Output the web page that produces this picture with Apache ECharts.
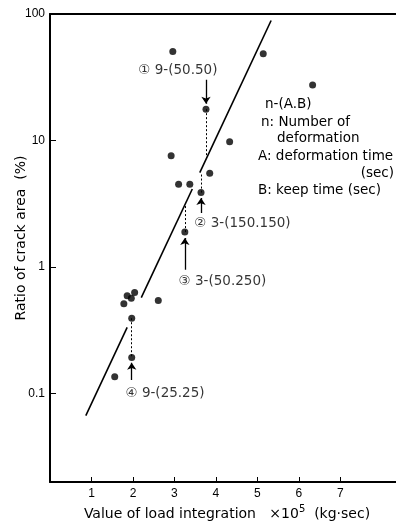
<!DOCTYPE html>
<html>
<head>
<meta charset="utf-8">
<script src="https://cdn.jsdelivr.net/npm/echarts@6/dist/echarts.min.js"></script>
<style>
  html, body { margin: 0; padding: 0; background: #fff; }
  #main { width: 396px; height: 524px; }
</style>
</head>
<body>
<div id="main"></div>
<script>
// measured points: load integration (x10^5 kg.sec) vs ratio of crack area (%)
const loadX = [2.96, 5.14, 6.33, 3.76, 4.33, 3.85, 3.64, 2.92, 3.10, 3.37, 3.25, 1.78, 1.86, 1.96, 2.04, 2.61, 1.97, 1.97, 1.56];
const crackRatio = [50.6, 48.4, 27.5, 17.7, 9.8, 5.52, 3.88, 7.57, 4.52, 4.52, 1.89, 0.512, 0.592, 0.567, 0.629, 0.543, 0.394, 0.193, 0.136];

// regression line, drawn in three pieces (gaps around labels)
const fitX = [[0.863, 1.86], [2.20, 3.43], [3.61, 5.33]];
const fitY = [[0.067, 0.333], [0.574, 4.14], [5.57, 88.9]];

// dotted guides: x, y from, y to
const guideX = [3.76, 3.64, 3.25, 1.97];
const guideY = [[17.7, 7.1], [3.88, 5.57], [1.89, 3.11], [0.394, 0.193]];

// arrows toward the marked points
const arrowX = [3.76, 3.64, 3.25, 1.97];
const arrowY = [[30.2, 19.5], [2.68, 3.52], [0.95, 1.70], [0.128, 0.175]];

// annotation labels
const noteX = [2.13, 3.48, 3.10, 1.82];
const noteY = [35.7, 2.22, 0.767, 0.1];
const noteText = ['① 9-(50.50)', '② 3-(150.150)', '③ 3-(50.250)', '④ 9-(25.25)'];

const xTicks = [1, 2, 3, 4, 5, 6, 7];

const font = "'DejaVu Sans', 'Noto Sans CJK JP', sans-serif";
const tickFont = "'Liberation Sans', sans-serif";

const chart = echarts.init(document.getElementById('main'), null, { renderer: 'canvas' });

let points = loadX.map(function (x, i) { return [x, crackRatio[i]]; });
let fitSegs = fitX.map(function (xs, i) {
  return { coords: [[xs[0], fitY[i][0]], [xs[1], fitY[i][1]]] };
});
let guides = guideX.map(function (x, i) {
  return { coords: [[x, guideY[i][0]], [x, guideY[i][1]]] };
});
let arrows = arrowX.map(function (x, i) {
  return { coords: [[x, arrowY[i][0]], [x, arrowY[i][1]]] };
});
let notes = noteX.map(function (x, i) {
  return { value: [x, noteY[i]], name: noteText[i] };
});

function legendLine(text, x, y, align) {
  return {
    type: 'text',
    x: x,
    y: y,
    style: {
      text: text,
      fill: '#000',
      font: '13.5px ' + font,
      align: align || 'left',
      verticalAlign: 'middle'
    }
  };
}

var option = {
  animation: false,
  backgroundColor: '#fff',
  grid: {
    left: 50,
    right: 0,
    top: 14,
    bottom: 42,
    containLabel: false,
    outerBoundsMode: 'none'
  },
  xAxis: [{
    type: 'value',
    min: 0,
    max: 8.34,
    name: 'Value of load integration   ×10{sup|5}  (kg·sec)',
    nameLocation: 'middle',
    nameGap: 22,
    nameTextStyle: {
      color: '#000',
      fontFamily: font,
      fontSize: 14,
      padding: [0, 0, 0, 8],
      rich: {
        sup: { fontSize: 10, fontFamily: font, color: '#000', padding: [0, 0, 9, 0] }
      }
    },
    axisLine: { lineStyle: { color: '#000', width: 2 } },
    axisTick: { inside: true, length: 5, customValues: xTicks, lineStyle: { color: '#000' } },
    axisLabel: { customValues: xTicks, color: '#000', fontFamily: tickFont, fontSize: 12, margin: 6 },
    splitLine: { show: false }
  }, {
    type: 'value',
    position: 'top',
    min: 0,
    max: 8.34,
    axisLine: { show: true, onZero: false, lineStyle: { color: '#000', width: 2 } },
    axisTick: { show: false },
    axisLabel: { show: false },
    splitLine: { show: false }
  }],
  yAxis: {
    type: 'log',
    logBase: 10,
    min: 0.02,
    max: 100,
    name: 'Ratio of crack area  (%)',
    nameLocation: 'middle',
    nameGap: 22,
    nameMoveOverlap: false,
    nameTextStyle: {
      color: '#000',
      fontFamily: font,
      fontSize: 14,
      padding: [0, 0, 0, 20]
    },
    axisLine: { show: true, lineStyle: { color: '#000', width: 2 } },
    axisTick: { inside: true, length: 6, lineStyle: { color: '#000' } },
    axisLabel: {
      showMinLabel: false,
      color: '#000',
      fontFamily: tickFont,
      fontSize: 12,
      margin: 5,
      formatter: function (v) { return String(v); }
    },
    splitLine: { show: false }
  },
  series: [{
    name: 'fit',
    type: 'lines',
    coordinateSystem: 'cartesian2d',
    silent: true,
    lineStyle: { color: '#000', width: 1.6, opacity: 1 },
    data: fitSegs
  }, {
    name: 'guides',
    type: 'lines',
    coordinateSystem: 'cartesian2d',
    silent: true,
    lineStyle: { color: '#000', width: 1, type: [2, 2], opacity: 1 },
    data: guides
  }, {
    name: 'arrows',
    type: 'lines',
    coordinateSystem: 'cartesian2d',
    silent: true,
    symbol: ['none', 'arrow'],
    symbolSize: [4, 7],
    lineStyle: { color: '#000', width: 1.3, opacity: 1 },
    data: arrows
  }, {
    name: 'points',
    type: 'scatter',
    symbol: 'circle',
    symbolSize: 7,
    itemStyle: { color: '#000' },
    data: points
  }, {
    name: 'notes',
    type: 'scatter',
    symbolSize: 0,
    silent: true,
    label: {
      show: true,
      position: 'right',
      distance: 0,
      formatter: '{b}',
      color: '#000',
      fontFamily: font,
      fontSize: 13.5
    },
    data: notes
  }],
  graphic: [
    legendLine('n-(A.B)', 265, 104),
    legendLine('n: Number of', 261, 122),
    legendLine('deformation', 277, 138),
    legendLine('A: deformation time', 258, 156),
    legendLine('(sec)', 394, 173, 'right'),
    legendLine('B: keep time (sec)', 258, 190)
  ]
};

chart.setOption(option);
</script>
</body>
</html>
